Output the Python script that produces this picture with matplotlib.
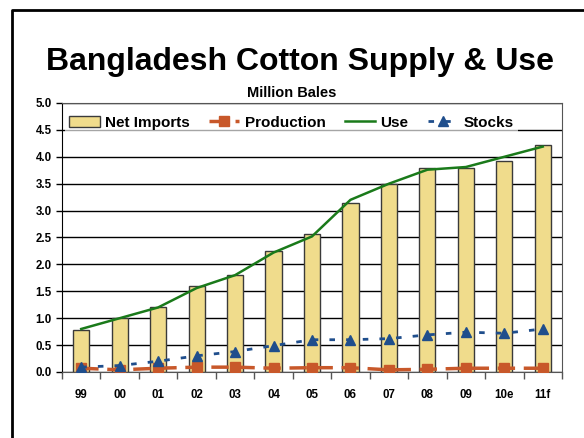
import matplotlib
matplotlib.use("Agg")
import matplotlib.pyplot as plt
from matplotlib.lines import Line2D
import numpy as np

plt.rcParams['font.family'] = ['Liberation Sans', 'DejaVu Sans']

years = ["99", "00", "01", "02", "03", "04", "05", "06", "07", "08", "09", "10e", "11f"]
net_imports = [0.78, 1.00, 1.20, 1.60, 1.80, 2.25, 2.56, 3.15, 3.50, 3.80, 3.79, 3.93, 4.22]
production = [0.07, 0.04, 0.07, 0.09, 0.09, 0.07, 0.08, 0.08, 0.04, 0.05, 0.07, 0.07, 0.07]
use = [0.80, 1.00, 1.20, 1.56, 1.80, 2.22, 2.52, 3.20, 3.50, 3.76, 3.81, 4.00, 4.19]
stocks = [0.09, 0.12, 0.20, 0.30, 0.38, 0.49, 0.60, 0.60, 0.62, 0.69, 0.74, 0.72, 0.80]
y_ticks = [0.0, 0.5, 1.0, 1.5, 2.0, 2.5, 3.0, 3.5, 4.0, 4.5, 5.0]

W, H = 584, 438
fig = plt.figure(figsize=(W / 100, H / 100), dpi=100)
ax = fig.add_axes([62 / W, 1 - 372 / H, 500 / W, 269 / H])

x = np.arange(len(years))
ax.set_axisbelow(True)
ax.yaxis.grid(True, color='black', linewidth=1)
b = ax.bar(x, net_imports, width=0.42, color='#F0DC8C', edgecolor='#3a3a3a',
           linewidth=1, label='Net Imports', zorder=2)
p, = ax.plot(x, production, color='#C8582A', linestyle=(0, (5, 2.5)), linewidth=2.5,
             marker='s', markersize=6.5, label='Production', zorder=4)
u, = ax.plot(x, use, color='#1A7A1A', linewidth=1.8, label='Use', zorder=3)
s, = ax.plot(x, stocks, color='#1F4E8C', linestyle=(0, (2, 4)), linewidth=2,
             marker='^', markersize=7.5, label='Stocks', zorder=5)

ax.set_xlim(-0.5, len(years) - 0.5)
ax.set_ylim(0, 5.0)
ax.set_yticks(y_ticks)
ax.set_yticklabels([f"{v:.1f}" for v in y_ticks], fontsize=8.3, fontweight='bold')
ax.set_xticks(x)
ax.set_xticklabels(years, fontsize=8.3, fontweight='bold')
ax.tick_params(axis='x', length=0, pad=12)
ax.set_xticks(np.arange(-0.5, len(years), 1), minor=True)
ax.tick_params(axis='x', which='minor', length=5, width=1, color='#555555', direction='out')
ax.tick_params(axis='y', length=4, width=1, direction='out')

for side in ['top', 'right']:
    ax.spines[side].set_color('#555555')
ax.spines['left'].set_color('black')
ax.spines['bottom'].set_color('#555555')

leg = ax.legend([b, p, u, s], ['Net Imports', 'Production', 'Use', 'Stocks'],
                loc='upper left', bbox_to_anchor=(0.005, 0.97), ncol=4, frameon=True,
                prop={'weight': 'bold', 'size': 11}, handlelength=2.0,
                columnspacing=1.25, handletextpad=0.35, borderaxespad=0.0,
                borderpad=0.3)
leg.get_frame().set_facecolor('white')
leg.get_frame().set_edgecolor('none')
leg.get_frame().set_alpha(0.65)

fig.text(300 / W, 1 - 62 / H, "Bangladesh Cotton Supply & Use", ha='center', va='center',
         fontsize=23, fontweight='bold')
fig.text(292 / W, 1 - 93 / H, "Million Bales", ha='center', va='center',
         fontsize=10.5, fontweight='bold')

fig.add_artist(Line2D([12 / W, 12 / W, 1.0], [0.0, 1 - 10 / H, 1 - 10 / H],
                      transform=fig.transFigure, color='black', linewidth=2))

fig.savefig("out.png", dpi=100)
